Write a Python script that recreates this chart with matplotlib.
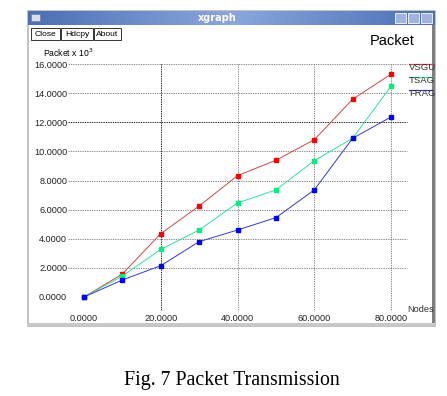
import matplotlib
matplotlib.use('Agg')
import matplotlib.pyplot as plt
import numpy as np
from matplotlib.patches import Rectangle

# data
nodes = [0, 10, 20, 30, 40, 50, 60, 70, 80]
vsgu = [0.0, 1.58, 4.35, 6.25, 8.33, 9.39, 10.8, 13.58, 15.3]
tsag = [0.0, 1.44, 3.27, 4.6, 6.46, 7.35, 9.36, 10.9, 14.47]
frag = [0.0, 1.17, 2.15, 3.8, 4.6, 5.45, 7.35, 10.9, 12.36]
series_names = ["VSGU", "TSAG", "FRAG"]
xticks = [0, 20, 40, 60, 80]
yticks = [0, 2, 4, 6, 8, 10, 12, 14, 16]

W, H = 447, 396
fig = plt.figure(figsize=(W / 100, H / 100), dpi=100)
fig.patch.set_facecolor('white')

# decoration layer in pixel coordinates
bg = fig.add_axes([0, 0, 1, 1])
bg.set_xlim(0, W)
bg.set_ylim(H, 0)
bg.axis('off')

# window frame
bg.add_patch(Rectangle((28, 11), 407, 315, facecolor='white', edgecolor='#b8b8b8', lw=1.2))
bg.add_patch(Rectangle((432, 25), 3, 300, facecolor='#808080', edgecolor='none'))
bg.add_patch(Rectangle((28, 323), 407, 3, facecolor='#c8c8c8', edgecolor='none'))
# title bar gradient
grad = np.linspace(0, 1, 100).reshape(1, -1)
bg.imshow(np.abs(grad - 0.5) * -1, extent=(28, 435, 25, 11), aspect='auto',
          cmap=matplotlib.colors.LinearSegmentedColormap.from_list('tb', ['#4c6fb4', '#8aa6dc']),
          zorder=2)
bg.text(217, 18, 'xgraph', color='white', fontsize=7, fontweight='bold',
        ha='center', va='center', family='DejaVu Sans', zorder=3)
bg.add_patch(Rectangle((31, 14), 9, 7, facecolor='#d8dde8', edgecolor='#6a7fae', lw=0.5, zorder=3))
for bx in [395, 408, 421]:
    bg.add_patch(Rectangle((bx, 13), 11, 10, facecolor='#9fb4de', edgecolor='#e8eefa', lw=0.7, zorder=3))

# buttons
for label, x0, x1 in [("Close", 31, 60), ("Hdcpy", 61, 93), ("About", 94, 121)]:
    bg.add_patch(Rectangle((x0, 28), x1 - x0, 12, facecolor='white', edgecolor='#333333', lw=0.7))
    bg.text((x0 + x1) / 2, 34.5, label, fontsize=6.1, ha='center', va='center',
            family='Liberation Sans')

bg.text(392, 41, 'Packet', fontsize=10.5, ha='center', va='center', family='Liberation Sans')
bg.text(43, 53, r'Packet x 10$^3$', fontsize=6.2, ha='left', va='center', family='Liberation Sans')
bg.text(407, 309, 'Nodes', fontsize=6.6, ha='left', va='center', family='Liberation Sans',
        color='#333333')

# caption
bg.text(232, 380, 'Fig. 7 Packet Transmission', fontsize=14.3, ha='center', va='center',
        family='Liberation Serif')

# data axes: x -4.2..84.2 -> px 68..407, y -0.9..16 -> px 310..64
xl, xr = -4.2, 84.2
yb, yt = -0.9, 16.0
px_x0, px_x1 = 84 + xl * 3.8375, 84 + xr * 3.8375
px_y0, px_y1 = 297 - yb * 14.5625, 297 - yt * 14.5625
ax = fig.add_axes([px_x0 / W, 1 - px_y0 / H, (px_x1 - px_x0) / W, (px_y0 - px_y1) / H])
ax.set_xlim(xl, xr)
ax.set_ylim(yb, yt)
ax.patch.set_alpha(0)
for s in ax.spines.values():
    s.set_visible(False)

dash = (0, (1.6, 1.2))
for y in yticks[1:]:
    c = '#000000' if y == 12 else '#7a7a7a'
    ax.hlines(y, xl, xr, colors=c, lw=0.6, linestyles=dash, clip_on=False)
for x in xticks[1:]:
    c = '#000000' if x == 20 else '#7a7a7a'
    ax.vlines(x, yb, yt, colors=c, lw=0.6, linestyles=dash, clip_on=False)

ax.set_xticks(xticks, ['%.4f' % v for v in xticks])
ax.set_yticks(yticks, ['%.4f' % v for v in yticks])
ax.tick_params(length=0, labelsize=6.6, colors='#222222')
ax.tick_params(axis='x', pad=2.5)
ax.tick_params(axis='y', pad=0.5)
for lab in ax.get_xticklabels() + ax.get_yticklabels():
    lab.set_family('Liberation Sans')

line_cols = ['#d04848', '#30e0a0', '#3838c8']
mark_cols = ['#ff0000', '#00f080', '#0000ff']
for vals, lc, mc in zip([vsgu, tsag, frag], line_cols, mark_cols):
    ax.plot(nodes, vals, color=lc, lw=0.7, marker='s', ms=2.3,
            mfc=mc, mec=mc, clip_on=False)

# legend at right edge (clipped by the window border)
clip = Rectangle((0, 0), 432, H, transform=bg.transData)
leg_y = [64, 77, 90]
for name, lc, ly in zip(series_names, line_cols, leg_y):
    ln, = bg.plot([409, 432], [ly, ly], color=lc, lw=0.9)
    t = bg.text(409, ly + 3.5, name, fontsize=6.8, ha='left', va='center',
                family='Liberation Sans', color='#333333')
    t.set_clip_path(clip)

fig.savefig('out.png', dpi=100)
